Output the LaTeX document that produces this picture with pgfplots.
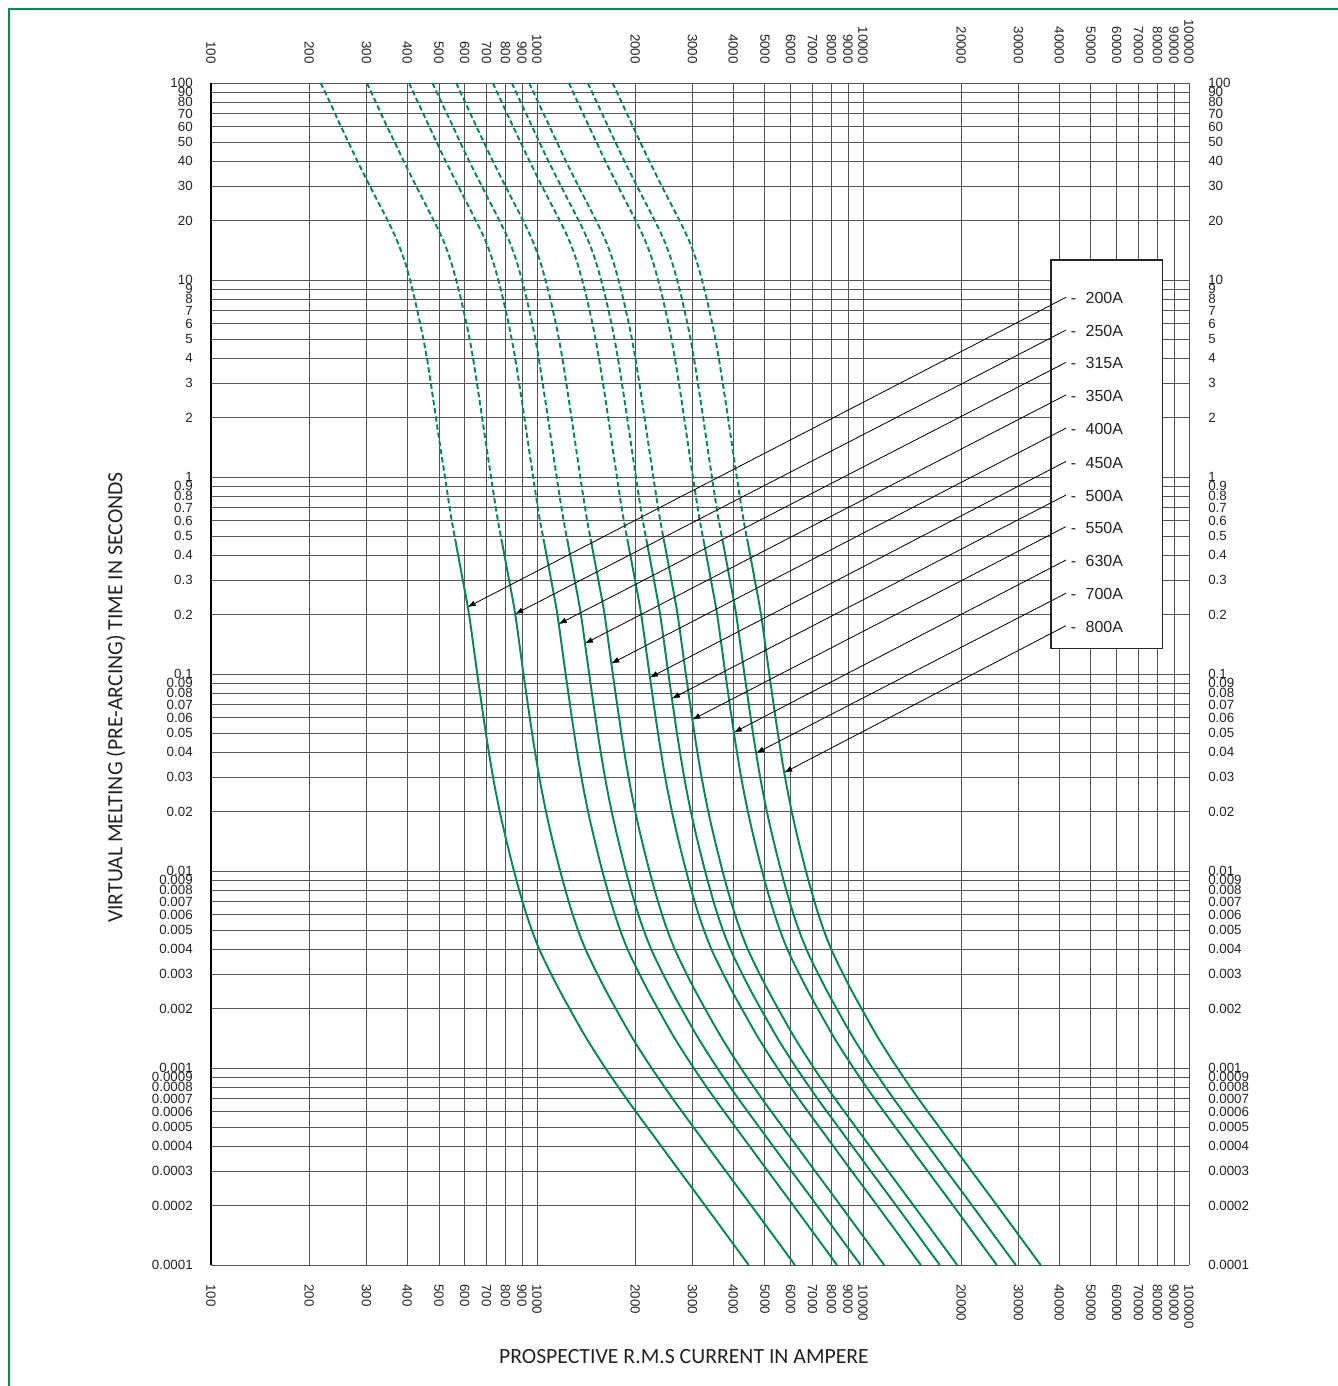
\documentclass[border=0pt]{standalone}
\usepackage{fontspec}
\setmainfont{Liberation Sans}
\newfontfamily\labelfont{Carlito}
\usepackage{pgfplots}
\usepackage{pgfplotstable}
\pgfplotsset{compat=1.18}
\usetikzlibrary{arrows.meta}

\definecolor{fusegreen}{RGB}{0,137,82}
\definecolor{gridgray}{RGB}{85,85,85}
\definecolor{txt}{RGB}{35,35,35}

% pre-arcing time (s) against prospective current (A), upper (dashed) part
\pgfplotstableread{
t      c1   c2   c3   c4   c5   c6   c7   c8   c9   c10  c11
100    217  301  405  478  565  732  837  946  1252 1432 1706
79.4   232  321  432  510  603  781  893  1010 1336 1528 1821
63.1   247  342  461  545  643  833  953  1078 1425 1630 1943
50.1   264  366  492  581  687  890  1017 1151 1522 1740 2074
39.8   282  391  526  621  734  951  1087 1229 1625 1859 2216
28.2   313  434  584  690  815  1055 1207 1365 1805 2064 2460
19.95  349  483  650  768  908  1176 1344 1520 2011 2300 2741
15.85  372  516  695  821  969  1256 1436 1624 2147 2456 2927
12.59  392  543  731  864  1020 1322 1511 1709 2260 2585 3081
10     408  565  761  899  1062 1375 1572 1778 2352 2690 3206
7.94   422  585  788  931  1100 1425 1629 1842 2436 2787 3321
5.62   442  613  825  975  1152 1492 1706 1929 2551 2918 3478
3.98   460  637  858  1013 1197 1550 1772 2005 2651 3032 3614
2.51   480  665  896  1058 1250 1620 1852 2094 2770 3168 3776
1.585  500  693  934  1103 1303 1688 1930 2182 2886 3301 3935
1      522  723  973  1149 1358 1759 2011 2274 3008 3440 4101
0.631  545  755  1016 1201 1418 1837 2100 2376 3142 3593 4283
0.461  564  782  1053 1244 1469 1903 2176 2461 3255 3723 4437
}\dashedpart

% lower (solid) part
\pgfplotstableread{
t        c1   c2   c3   c4   c5    c6    c7    c8    c9    c10   c11
0.461    564  782  1053 1244 1469  1903  2176  2461  3255  3723  4437
0.3      592  821  1105 1305 1542  1998  2284  2583  3416  3907  4657
0.2      619  858  1155 1364 1612  2088  2387  2700  3570  4083  4867
0.1      656  909  1224 1446 1708  2213  2530  2861  3784  4328  5158
0.05     697  966  1300 1536 1815  2351  2688  3040  4020  4598  5481
0.03     733  1016 1368 1616 1909  2472  2827  3197  4228  4836  5764
0.02     769  1066 1435 1695 2002  2594  2965  3354  4436  5073  6047
0.0141   807  1118 1506 1779 2101  2722  3112  3520  4655  5324  6346
0.01     850  1178 1586 1873 2213  2867  3278  3707  4903  5607  6684
0.00794  883  1224 1648 1946 2299  2978  3405  3851  5093  5825  6943
0.00631  920  1275 1717 2028 2396  3103  3548  4013  5307  6069  7234
0.00501  964  1336 1799 2125 2510  3252  3717  4204  5560  6359  7580
0.00398  1018 1411 1899 2244 2651  3434  3926  4440  5872  6716  8005
0.00316  1088 1508 2030 2398 2833  3670  4195  4745  6276  7177  8555
0.00251  1168 1619 2179 2574 3041  3940  4504  5094  6737  7705  9184
0.002    1259 1745 2349 2775 3278  4247  4855  5491  7262  8305  9900
0.00141  1420 1968 2649 3130 3698  4790  5476  6193  8190  9368  11166
0.001    1621 2246 3025 3573 4221  5468  6251  7070  9350  10693 12746
0.000708 1871 2593 3491 4124 4872  6311  7215  8160  10792 12343 14712
0.000501 2179 3019 4066 4803 5674  7350  8402  9504  12568 14374 17134
0.000316 2674 3705 4989 5894 6963  9019  10311 11662 15423 17640 21026
0.0002   3281 4547 6122 7231 8543  11067 12653 14310 18925 21644 25799
0.0001   4461 6182 8323 9832 11616 15047 17202 19456 25731 29428 35077
}\solidpart

\def\xt{100,200,300,400,500,600,700,800,900,1000,2000,3000,4000,5000,6000,7000,8000,9000,10000,20000,30000,40000,50000,60000,70000,80000,90000,100000}
\def\yt{0.0001,0.0002,0.0003,0.0004,0.0005,0.0006,0.0007,0.0008,0.0009,0.001,0.002,0.003,0.004,0.005,0.006,0.007,0.008,0.009,0.01,0.02,0.03,0.04,0.05,0.06,0.07,0.08,0.09,0.1,0.2,0.3,0.4,0.5,0.6,0.7,0.8,0.9,1,2,3,4,5,6,7,8,9,10,20,30,40,50,60,70,80,90,100}

\tikzset{
  fuse/.style={color=fusegreen, line width=1.45pt, smooth, tension=0.5},
  fusedash/.style={fuse, dash pattern=on 4pt off 2.2pt},
  leader/.style={color=black, line width=0.6pt, -{Latex[length=6pt,width=4.5pt]}},
}

\begin{document}
\begin{tikzpicture}
\useasboundingbox (-158.25pt,-90.75pt) rectangle (845.25pt,948.75pt);

\begin{axis}[
    xmode=log, ymode=log,
    scale only axis, width=733.5pt, height=886.5pt,
    at={(0pt,0pt)}, anchor=south west,
    xmin=100, xmax=100000, ymin=0.0001, ymax=100,
    xtick/.expand once=\xt, xticklabels/.expand once=\xt,
    ytick/.expand once=\yt, yticklabels/.expand once=\yt,
    major tick length=0pt,
    axis line style={draw=none},
    tick label style={font=\fontsize{10}{12}\selectfont, text=txt},
    grid=major, major grid style={gridgray, line width=0.55pt},
    xticklabel style={yshift=-10.9pt, rotate=-90, anchor=west},
    yticklabel style={xshift=-10.2pt},
    clip=false]

  \pgfplotsinvokeforeach{c1,c2,c3,c4,c5,c6,c7,c8,c9,c10,c11}{
    \addplot[fusedash] table[x=#1, y=t] {\dashedpart};
    \addplot[fuse] table[x=#1, y=t] {\solidpart};
  }

  \draw[black, line width=1.1pt] (rel axis cs:0,0) -- (rel axis cs:0,1);

  % legend box
  \draw[fill=white, draw=black!85, line width=0.9pt]
    (axis cs:37730,12.63) rectangle (axis cs:82800,0.1351);

  \addplot[leader] coordinates {(41950,8.17) (613,0.2188)};
  \addplot[leader] coordinates {(41950,5.57) (857,0.2016)};
  \addplot[leader] coordinates {(41950,3.82) (1166,0.1794)};
  \addplot[leader] coordinates {(41950,2.61) (1403,0.1428)};
  \addplot[leader] coordinates {(41950,1.77) (1691,0.1131)};
  \addplot[leader] coordinates {(41950,1.20) (2221,0.0960)};
  \addplot[leader] coordinates {(41950,0.810) (2594,0.0751)};
  \addplot[leader] coordinates {(41950,0.560) (2997,0.0587)};
  \addplot[leader] coordinates {(41950,0.379) (4017,0.0505)};
  \addplot[leader] coordinates {(41950,0.257) (4704,0.0397)};
  \addplot[leader] coordinates {(41950,0.176) (5733,0.0316)};

  \node[anchor=west, inner sep=0pt, text=txt, font=\fontsize{12}{14}\selectfont] at (axis cs:43370,8.074)  {-\hspace{7pt}200A};
  \node[anchor=west, inner sep=0pt, text=txt, font=\fontsize{12}{14}\selectfont] at (axis cs:43370,5.509)  {-\hspace{7pt}250A};
  \node[anchor=west, inner sep=0pt, text=txt, font=\fontsize{12}{14}\selectfont] at (axis cs:43370,3.777)  {-\hspace{7pt}315A};
  \node[anchor=west, inner sep=0pt, text=txt, font=\fontsize{12}{14}\selectfont] at (axis cs:43370,2.577)  {-\hspace{7pt}350A};
  \node[anchor=west, inner sep=0pt, text=txt, font=\fontsize{12}{14}\selectfont] at (axis cs:43370,1.746)  {-\hspace{7pt}400A};
  \node[anchor=west, inner sep=0pt, text=txt, font=\fontsize{12}{14}\selectfont] at (axis cs:43370,1.182)  {-\hspace{7pt}450A};
  \node[anchor=west, inner sep=0pt, text=txt, font=\fontsize{12}{14}\selectfont] at (axis cs:43370,0.801)  {-\hspace{7pt}500A};
  \node[anchor=west, inner sep=0pt, text=txt, font=\fontsize{12}{14}\selectfont] at (axis cs:43370,0.553)  {-\hspace{7pt}550A};
  \node[anchor=west, inner sep=0pt, text=txt, font=\fontsize{12}{14}\selectfont] at (axis cs:43370,0.3748) {-\hspace{7pt}630A};
  \node[anchor=west, inner sep=0pt, text=txt, font=\fontsize{12}{14}\selectfont] at (axis cs:43370,0.2539) {-\hspace{7pt}700A};
  \node[anchor=west, inner sep=0pt, text=txt, font=\fontsize{12}{14}\selectfont] at (axis cs:43370,0.1738) {-\hspace{7pt}800A};

  \node[rotate=90, text=txt, font=\labelfont\fontsize{16.3}{19}\selectfont]
    at (rel axis cs:-0.0971,0.4801) {VIRTUAL MELTING (PRE-ARCING) TIME IN SECONDS};
  \node[text=txt, font=\labelfont\fontsize{16.3}{19}\selectfont]
    at (rel axis cs:0.4836,-0.0778) {PROSPECTIVE R.M.S CURRENT IN AMPERE};
\end{axis}

% tick labels on the top and right
\begin{axis}[
    xmode=log, ymode=log,
    scale only axis, width=733.5pt, height=886.5pt,
    at={(0pt,0pt)}, anchor=south west,
    xmin=100, xmax=100000, ymin=0.0001, ymax=100,
    xtick/.expand once=\xt, xticklabels/.expand once=\xt,
    ytick/.expand once=\yt, yticklabels/.expand once=\yt,
    major tick length=0pt,
    axis line style={draw=none},
    tick label style={font=\fontsize{10}{12}\selectfont, text=txt},
    xticklabel pos=upper, yticklabel pos=right,
    xticklabel style={yshift=10.9pt, rotate=-90, anchor=east},
    yticklabel style={xshift=10.9pt}]
  \addplot[draw=none] coordinates {(100,0.0001) (100000,100)};
\end{axis}

\draw[fusegreen, line width=1.6pt] (-151.5pt,-90.75pt) -- (-151.5pt,942pt) -- (845.25pt,942pt);
\end{tikzpicture}
\end{document}
